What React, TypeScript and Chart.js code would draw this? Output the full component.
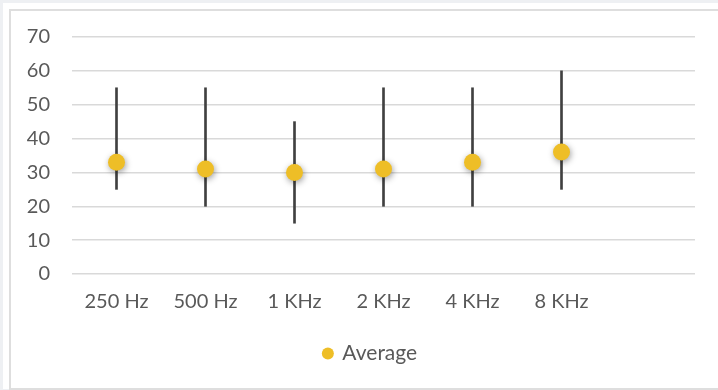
import React, { useEffect, useRef } from "react";
import { Chart, registerables } from "chart.js";

Chart.register(...registerables);

const categories = ["250 Hz", "500 Hz", "1 KHz", "2 KHz", "4 KHz", "8 KHz", ""];
const averages = [33, 31, 30, 31, 33, 36];
const lows = [25, 20, 15, 20, 20, 25];
const highs = [55, 55, 45, 55, 55, 60];
const yTicks = [0, 10, 20, 30, 40, 50, 60, 70];

const FONT = "Lato, 'Open Sans', sans-serif";
const TEXT = "#595959";

const shadowPlugin = {
  id: "pointShadow",
  beforeDatasetDraw(chart: any, args: any) {
    if (args.index === 1) {
      const ctx = chart.ctx;
      ctx.save();
      ctx.shadowColor = "rgba(0,0,0,0.38)";
      ctx.shadowBlur = 6;
      ctx.shadowOffsetX = 1;
      ctx.shadowOffsetY = 2;
    }
  },
  afterDatasetDraw(chart: any, args: any) {
    if (args.index === 1) chart.ctx.restore();
  },
};

const legendShift = {
  id: "legendShift",
  afterLayout(chart: any) {
    const lg = chart.legend;
    if (lg) {
      lg.left += 13;
      lg.right += 13;
    }
  },
};

export default function App() {
  const ref = useRef<HTMLCanvasElement | null>(null);

  useEffect(() => {
    if (!ref.current) return;
    const chart = new Chart(ref.current, {
      type: "bar",
      data: {
        labels: categories,
        datasets: [
          {
            type: "bar",
            label: "Range",
            data: lows.map((l, i) => [l, highs[i]]) as any,
            backgroundColor: "#404040",
            borderWidth: 0,
            barThickness: 2,
            grouped: false,
            order: 2,
          } as any,
          {
            type: "line",
            label: "Average",
            data: averages,
            showLine: false,
            pointRadius: 8.5,
            pointHoverRadius: 8.5,
            pointBorderWidth: 0,
            pointBackgroundColor: "#EEBE27",
            backgroundColor: "#EEBE27",
            borderColor: "#EEBE27",
            order: 1,
          } as any,
        ],
      },
      options: {
        responsive: false,
        animation: false,
        devicePixelRatio: 1,
        layout: { padding: { left: 20, right: 23, top: 37, bottom: 16 } },
        plugins: {
          tooltip: { enabled: false },
          legend: {
            position: "bottom",
            labels: {
              filter: (item: any) => item.datasetIndex === 1,
              usePointStyle: true,
              pointStyle: "circle",
              boxWidth: 8,
              boxHeight: 8.5,
              color: TEXT,
              font: { family: FONT, size: 21 },
              padding: 8,
            },
          },
        },
        scales: {
          x: {
            offset: true,
            grid: { display: false, drawTicks: false },
            border: { display: false },
            ticks: { color: TEXT, font: { family: FONT, size: 20 }, padding: 16, maxRotation: 0, autoSkip: false },
            afterFit: (s: any) => {
              s.height = 61;
            },
          },
          y: {
            min: 0,
            max: 70,
            afterBuildTicks: (s: any) => {
              s.ticks = yTicks.map((v) => ({ value: v }));
            },
            grid: { color: "#d9d9d9", lineWidth: 1.5, drawTicks: false },
            border: { display: false },
            ticks: { color: TEXT, font: { family: FONT, size: 20 }, padding: 22 },
            afterFit: (s: any) => {
              s.width = 52;
            },
          },
        },
      },
      plugins: [shadowPlugin, legendShift],
    });
    return () => chart.destroy();
  }, []);

  return (
    <div style={{ position: "fixed", left: 0, top: 0, width: 718, height: 390, background: "#eef0f3", overflow: "hidden" }}>
      <div style={{ position: "absolute", left: 3, top: 3, right: 0, bottom: 1, background: "#ffffff" }} />
      <div
        style={{
          position: "absolute",
          left: 9,
          top: 9,
          width: 730,
          height: 377,
          border: "2px solid #dedede",
        }}
      />
      <canvas ref={ref} width={718} height={390} style={{ position: "absolute", left: 0, top: 0, width: 718, height: 390 }} />
    </div>
  );
}
